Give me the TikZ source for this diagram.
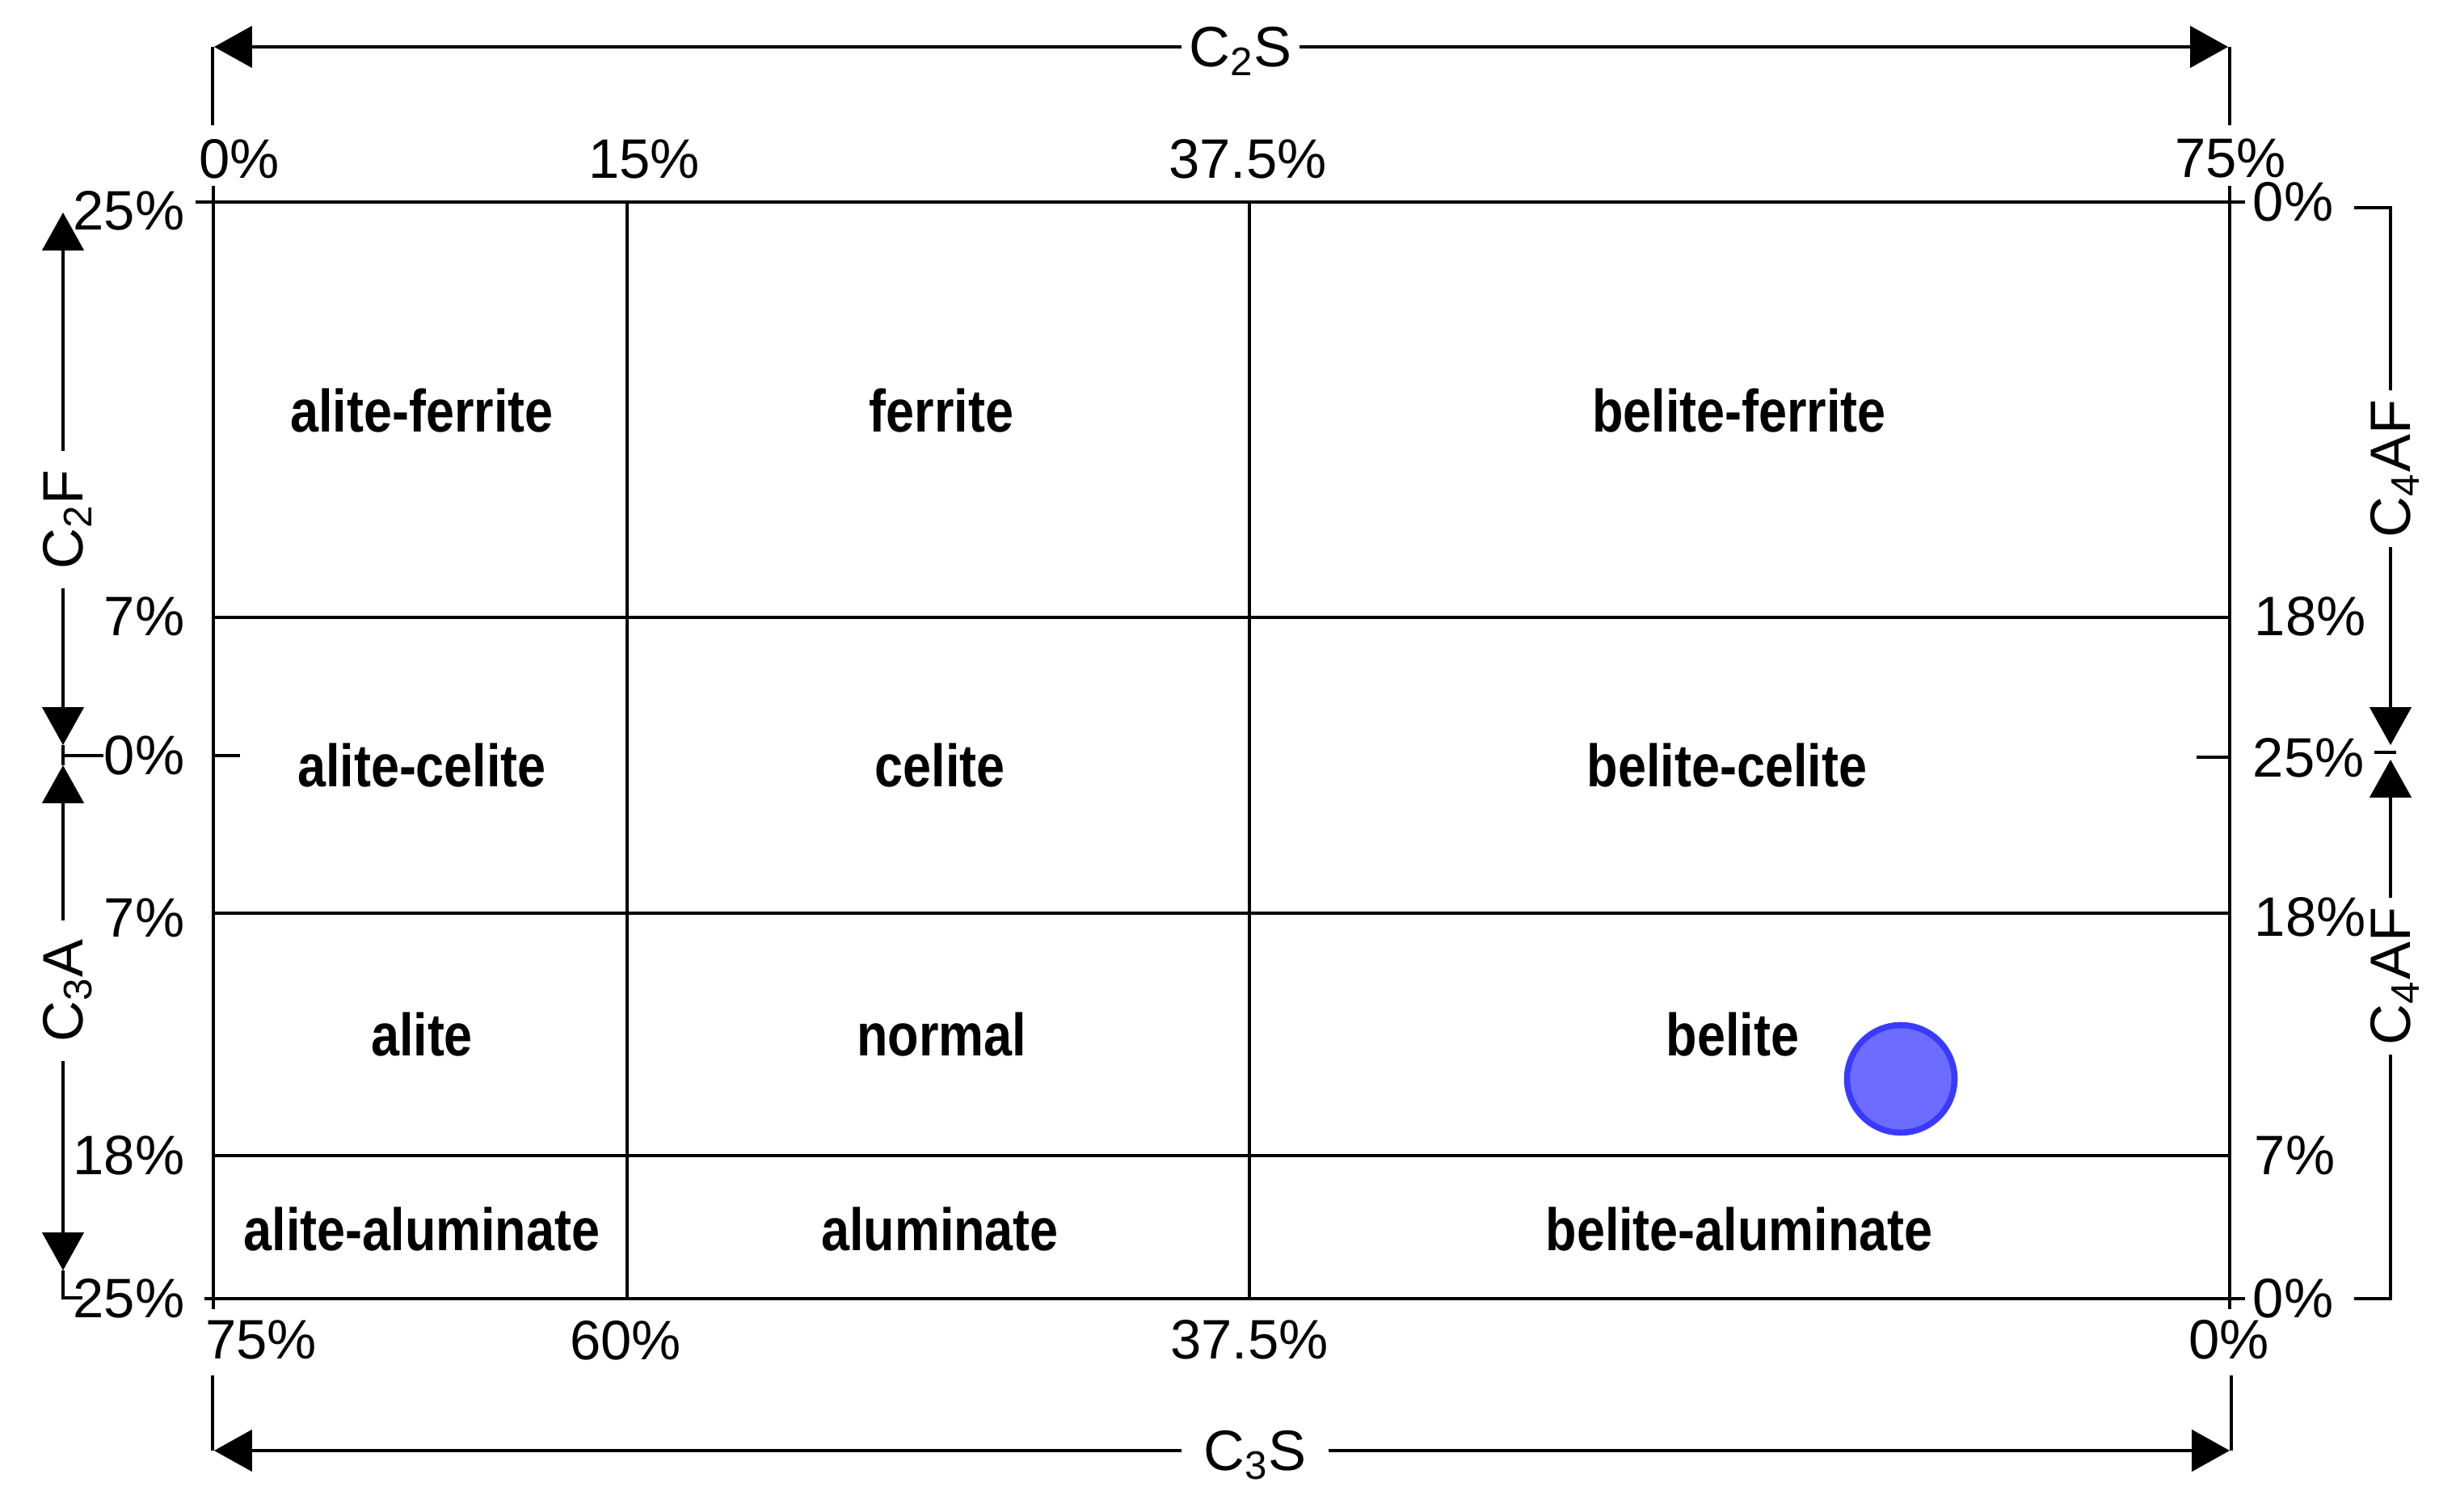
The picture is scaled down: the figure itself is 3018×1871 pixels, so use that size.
\documentclass[tikz,border=0pt]{standalone}
\usepackage{fontspec}
\setmainfont{Liberation Sans}
\newfontfamily\labfont{Liberation Sans}[FakeStretch=0.85]
\usetikzlibrary{arrows.meta}
\definecolor{dotfill}{RGB}{108,108,255}
\definecolor{dotline}{RGB}{58,58,255}
\begin{document}
\begin{tikzpicture}[x=0.25pt,y=-0.25pt,line width=0.9pt,
  pct/.style={font=\fontsize{17.2}{20}\selectfont,inner sep=0pt},
  region/.style={font=\labfont\bfseries\fontsize{18.5}{22}\selectfont,inner sep=0pt},
  axislab/.style={font=\fontsize{17.6}{20}\selectfont,inner ysep=0pt,text height=12.4pt,text depth=0pt},
  tip/.style={-{Triangle[length=11.7pt,width=12.8pt]}}]
\useasboundingbox (0,0) rectangle (3018,1871);
% grid
\draw (242,250) -- (2778,250);
\draw (264,764) -- (2759,764);
\draw (264,1130) -- (2759,1130);
\draw (264,1430) -- (2759,1430);
\draw (253,1607) -- (2778,1607);
\draw (264,230) -- (264,1620);
\draw (776,250) -- (776,1607);
\draw (1546,250) -- (1546,1607);
\draw (2759,230) -- (2759,1620);
\draw (264,935) -- (297,935);
\draw (2718,937) -- (2759,937);
% region labels
\node[region] (r11) at (522,508) {alite-ferrite};
\node[region] (r12) at (1165,508) {ferrite};
\node[region] (r13) at (2152,508) {belite-ferrite};
\node[region] (r21) at (522,947) {alite-celite};
\node[region] (r22) at (1163,947) {celite};
\node[region] (r23) at (2137,947) {belite-celite};
\node[region] (r31) at (522,1280) {alite};
\node[region] (r32) at (1165,1280) {normal};
\node[region] (r33) at (2144,1280) {belite};
\node[region] (r41) at (522,1521) {alite-aluminate};
\node[region] (r42) at (1163,1521) {aluminate};
\node[region] (r43) at (2152,1521) {belite-aluminate};
% dot
\node[circle,minimum size=33.25pt,inner sep=0pt,fill=dotfill,draw=dotline,line width=1.9pt] (dot) at (2352,1335) {};
% top percentages
\node[pct] (t1) at (296,197) {0\%};
\node[pct] (t2) at (797,197) {15\%};
\node[pct] (t3) at (1544,197) {37.5\%};
\node[pct] (t4) at (2760,196) {75\%};
% bottom percentages
\node[pct] (b1) at (323,1658) {75\%};
\node[pct] (b2) at (774,1659) {60\%};
\node[pct] (b3) at (1546,1658) {37.5\%};
\node[pct] (b4) at (2758,1658) {0\%};
% left percentages
\node[pct,anchor=east] (l1) at (230,261) {25\%};
\node[pct,anchor=east] (l2) at (230,763) {7\%};
\node[pct,anchor=east] (l3) at (230,935) {0\%};
\node[pct,anchor=east] (l4) at (230,1136) {7\%};
\node[pct,anchor=east] (l5) at (230,1430) {18\%};
\node[pct,anchor=east] (l6) at (230,1607) {25\%};
% right percentages
\node[pct,anchor=west] (p1) at (2786,250) {0\%};
\node[pct,anchor=west] (p2) at (2788,763) {18\%};
\node[pct,anchor=west] (p3) at (2786,938) {25\%};
\node[pct,anchor=west] (p4) at (2788,1135) {18\%};
\node[pct,anchor=west] (p5) at (2788,1430) {7\%};
\node[pct,anchor=west] (p6) at (2786,1607) {0\%};
% top axis C2S
\node[axislab,inner xsep=2pt] (c2s) at (1535,58) {C\textsubscript{2}S};
\coordinate (tl) at (265,58);
\coordinate (tr) at (2757,58);
\coordinate (tlb) at (263,155);
\coordinate (trb) at (2759,155);
\draw (tlb) -- (263,58);
\draw (trb) -- (2759,58);
\draw[tip] (c2s.west) -- (tl);
\draw[tip] (c2s.east) -- (tr);
% bottom axis C3S
\node[axislab,inner xsep=6.5pt] (c3s) at (1553,1795) {C\textsubscript{3}S};
\coordinate (bl) at (265,1795);
\coordinate (br) at (2759,1795);
\coordinate (blb) at (263,1702);
\coordinate (brb) at (2761,1702);
\draw (blb) -- (263,1795);
\draw (brb) -- (2761,1795);
\draw[tip] (c3s.west) -- (bl);
\draw[tip] (c3s.east) -- (br);
% left axis
\node[axislab,rotate=90,inner xsep=5.5pt] (c2f) at (78,643) {C\textsubscript{2}F};
\node[axislab,rotate=90,inner xsep=5.5pt] (c3a) at (78,1226) {C\textsubscript{3}A};
\coordinate (lt) at (78,263);
\coordinate (lm1) at (78,922);
\coordinate (lm2) at (78,947);
\coordinate (lb) at (78,1572);
\coordinate (lbe) at (102,1606);
\draw[tip] (c2f.east) -- (lt);
\draw[tip] (c2f.west) -- (lm1);
\draw (lm1) -- (lm2);
\draw (78,935) -- (128,935);
\draw[tip] (c3a.east) -- (lm2);
\draw[tip] (c3a.west) -- (lb);
\draw (lb) |- (lbe);
% right axis
\node[axislab,rotate=90,inner xsep=2.5pt] (c4af1) at (2958,580) {C\textsubscript{4}AF};
\node[axislab,rotate=90,inner xsep=2.5pt] (c4af2) at (2958,1208) {C\textsubscript{4}AF};
\coordinate (rtop) at (2913,257);
\coordinate (rbot) at (2913,1607);
\coordinate (rm1) at (2958,922);
\coordinate (rm2) at (2958,940);
\draw (rtop) -| (c4af1.east);
\draw[tip] (c4af1.west) -- (rm1);
\draw (2938,931) -- (2965,931);
\draw[tip] (c4af2.east) -- (rm2);
\draw (c4af2.west) |- (rbot);
\end{tikzpicture}
\end{document}
